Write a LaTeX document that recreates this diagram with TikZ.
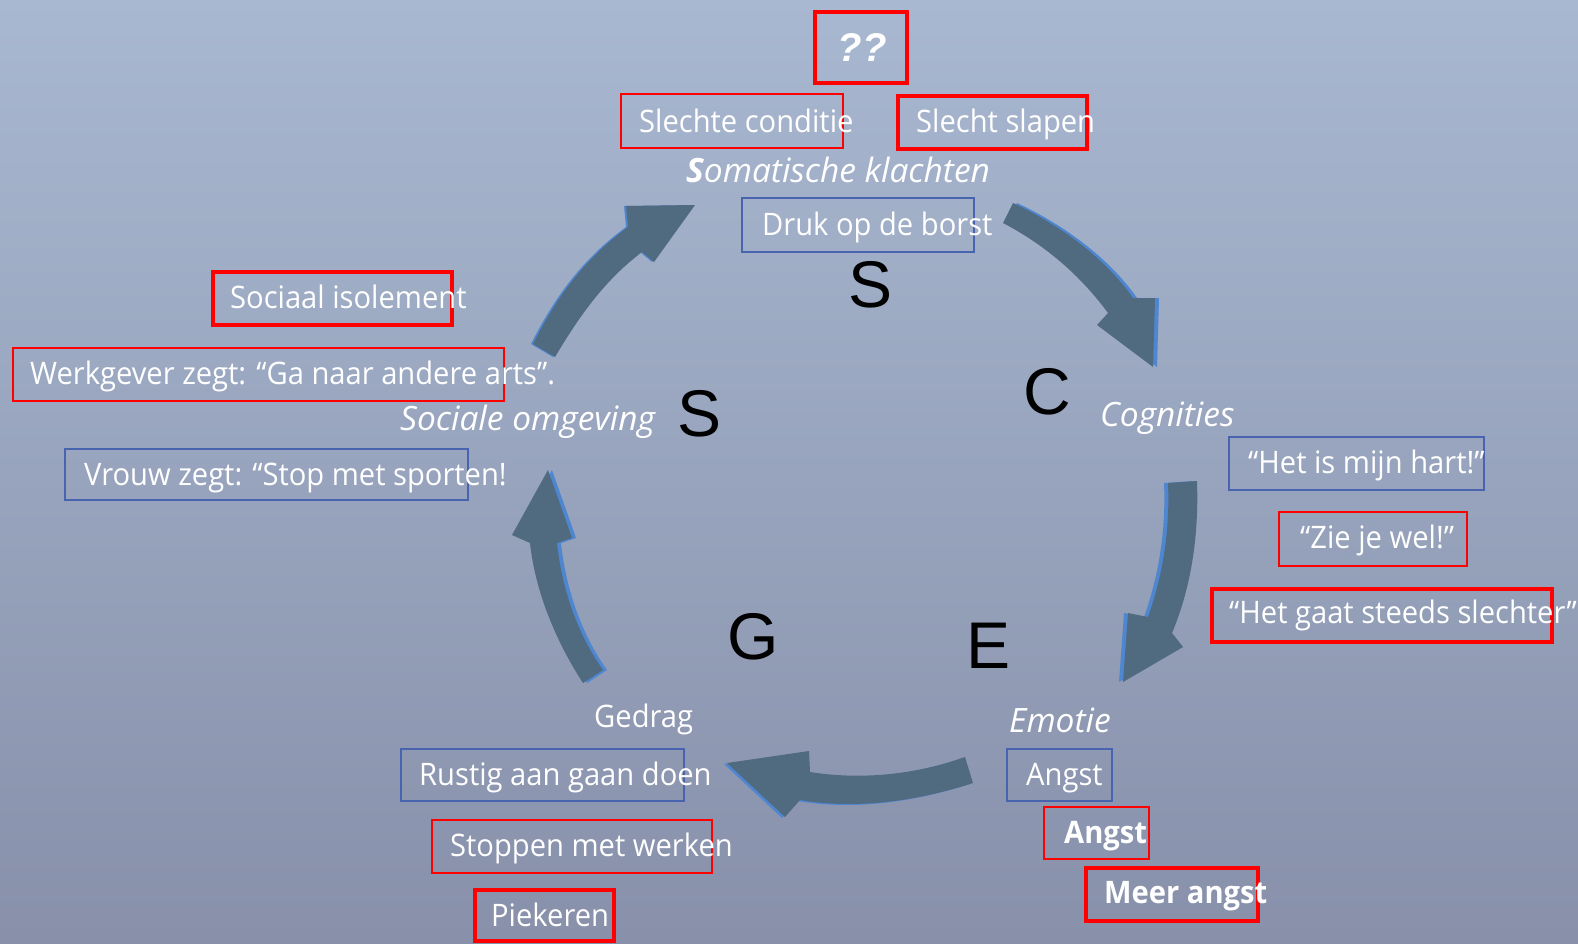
\documentclass[tikz,border=0pt]{standalone}
\usepackage{fontspec}
\setmainfont[FakeStretch=0.94]{Open Sans}
\newfontfamily\itfam{Open Sans}
\newfontfamily\letterfont{Liberation Sans}
\definecolor{bgtop}{RGB}{168,184,208}
\definecolor{bgbot}{RGB}{136,144,170}
\definecolor{arrowfill}{RGB}{80,106,128}
\definecolor{arrowhl}{RGB}{79,134,208}
\definecolor{boxred}{RGB}{255,0,0}
\definecolor{boxblue}{RGB}{72,100,175}
\tikzset{
  redthin/.style={draw=boxred, line width=2pt, rectangle, inner sep=0pt, anchor=north west},
  redthick/.style={draw=boxred, line width=4pt, rectangle, inner sep=0pt, anchor=north west},
  bluebox/.style={draw=boxblue, line width=2pt, rectangle, inner sep=0pt, anchor=north west},
  lbl/.style={text=white, anchor=base west, inner sep=0pt, font=\fontsize{31}{36}\selectfont},
  lblb/.style={lbl, font=\fontsize{31}{36}\selectfont\bfseries},
  itl/.style={lbl, font=\itfam\fontsize{33.5}{38}\selectfont\itshape},
  big/.style={anchor=base, inner sep=0pt, text=black, font=\letterfont\fontsize{66}{70}\selectfont},
  blockarrow/.style={fill=arrowfill, draw=none},
  hl/.style={fill=arrowhl, draw=none}
}
\begin{document}
\begin{tikzpicture}[x=1pt,y=-1pt]
\useasboundingbox (0,0) rectangle (1578,943);
\shade[top color=bgtop, bottom color=bgbot] (0,0) rectangle (1578,943);

% ---------- block arrows ----------
% top-left
\begin{scope}[shift={(-2,0)}]
\path[hl] (533,344) .. controls (560,290) and (590,255) .. (628,227) -- (626,206) -- (695,205) -- (654,262) -- (642,252) .. controls (605,280) and (580,315) .. (555,357) -- cycle;
\end{scope}
\path[blockarrow] (533,344) .. controls (560,290) and (590,255) .. (628,227) -- (626,206) -- (695,205) -- (654,262) -- (642,252) .. controls (605,280) and (580,315) .. (555,357) -- cycle;
% top-right
\begin{scope}[shift={(4,0)}]
\path[hl] (1013,203) .. controls (1060,225) and (1105,258) .. (1133,298) -- (1155,298) -- (1153,367) -- (1097,325) -- (1108,313) .. controls (1080,275) and (1045,245) .. (1003,223) -- cycle;
\end{scope}
\path[blockarrow] (1013,203) .. controls (1060,225) and (1105,258) .. (1133,298) -- (1155,298) -- (1153,367) -- (1097,325) -- (1108,313) .. controls (1080,275) and (1045,245) .. (1003,223) -- cycle;
% right
\begin{scope}[shift={(-4,0)}]
\path[hl] (1197,481) .. controls (1199,540) and (1190,590) .. (1172,633) -- (1183,647) -- (1123,682) -- (1128,613) -- (1148,617) .. controls (1163,575) and (1170,530) .. (1168,483) -- cycle;
\end{scope}
\path[blockarrow] (1197,481) .. controls (1199,540) and (1190,590) .. (1172,633) -- (1183,647) -- (1123,682) -- (1128,613) -- (1148,617) .. controls (1163,575) and (1170,530) .. (1168,483) -- cycle;
% bottom
\begin{scope}[shift={(-3,1)}]
\path[hl] (965,757) .. controls (915,775) and (860,780) .. (810,772) -- (809,751) -- (727,763) -- (785,817) -- (800,800) .. controls (860,810) and (920,800) .. (973,783) -- cycle;
\end{scope}
\path[blockarrow] (965,757) .. controls (915,775) and (860,780) .. (810,772) -- (809,751) -- (727,763) -- (785,817) -- (800,800) .. controls (860,810) and (920,800) .. (973,783) -- cycle;
% left
\begin{scope}[shift={(4,0)}]
\path[hl] (583,683) .. controls (555,640) and (535,590) .. (530,543) -- (512,535) -- (548,470) -- (572,538) -- (557,543) .. controls (562,590) and (578,635) .. (603,670) -- cycle;
\end{scope}
\path[blockarrow] (583,683) .. controls (555,640) and (535,590) .. (530,543) -- (512,535) -- (548,470) -- (572,538) -- (557,543) .. controls (562,590) and (578,635) .. (603,670) -- cycle;

% ---------- big letters ----------
\node[big] (lS1) at (870,307) {S};
\node[big] (lC) at (1047,414) {C};
\node[big] (lE) at (988,668) {E};
\node[big] (lG) at (753,659) {G};
\node[big] (lS2) at (700,436) {S};

% ---------- boxes ----------
\node[redthick, minimum width=92pt, minimum height=71pt] (bq) at (813,10) {};
\node[redthin, minimum width=222pt, minimum height=54pt] (bcond) at (620,93) {};
\node[redthick, minimum width=189pt, minimum height=53pt] (bslaap) at (896,94) {};
\node[bluebox, minimum width=232pt, minimum height=54pt] (bdruk) at (741,197) {};
\node[redthick, minimum width=239pt, minimum height=53pt] (biso) at (211,270) {};
\node[redthin, minimum width=491pt, minimum height=53pt] (bwerk) at (12,347) {};
\node[bluebox, minimum width=403pt, minimum height=51pt] (bvrouw) at (64,448) {};
\node[bluebox, minimum width=255pt, minimum height=53pt] (bhart) at (1228,436) {};
\node[redthin, minimum width=188pt, minimum height=54pt] (bzie) at (1278,511) {};
\node[redthick, minimum width=340pt, minimum height=53pt] (bgaat) at (1210,587) {};
\node[bluebox, minimum width=283pt, minimum height=52pt] (brustig) at (400,748) {};
\node[redthin, minimum width=280pt, minimum height=53pt] (bstop) at (431,819) {};
\node[redthick, minimum width=139pt, minimum height=51pt] (bpiek) at (473,888) {};
\node[bluebox, minimum width=105pt, minimum height=52pt] (bangst1) at (1006,748) {};
\node[redthin, minimum width=105pt, minimum height=52pt] (bangst2) at (1043,806) {};
\node[redthick, minimum width=172pt, minimum height=53pt] (bmeer) at (1084,866) {};

% ---------- texts ----------
\node[anchor=base, inner sep=0pt, text=white, font=\letterfont\fontsize{40}{44}\selectfont\bfseries\itshape] (tq) at (862,61) {??};
\node[lbl] (tcond) at (639,132) {Slechte conditie};
\node[lbl] (tslaap) at (916,132) {Slecht slapen};
\node[itl] (tsom) at (686,182) {\textbf{S}omatische klachten};
\node[lbl] (tdruk) at (762,235) {Druk op de borst};
\node[lbl] (tiso) at (230,308) {Sociaal isolement};
\node[lbl] (twerk) at (30,384) {Werkgever zegt: “Ga naar andere arts”.};
\node[itl] (tsoc) at (400,430) {Sociale omgeving};
\node[lbl] (tvrouw) at (84,485) {Vrouw zegt: “Stop met sporten!};
\node[itl] (tcog) at (1100,426) {Cognities};
\node[lbl] (thart) at (1248,473) {“Het is mijn hart!”};
\node[lbl] (tzie) at (1300,548) {“Zie je wel!”};
\node[lbl] (tgaat) at (1229,623) {“Het gaat steeds slechter”};
\node[lbl] (tgedrag) at (594,727) {Gedrag};
\node[lbl] (trustig) at (419,785) {Rustig aan gaan doen};
\node[lbl] (tstop) at (450,856) {Stoppen met werken};
\node[lbl] (tpiek) at (491,926) {Piekeren};
\node[itl] (temo) at (1009,732) {Emotie};
\node[lbl] (tangst1) at (1026,785) {Angst};
\node[lblb] (tangst2) at (1064,843) {Angst};
\node[lblb] (tmeer) at (1104,903) {Meer angst};
\end{tikzpicture}
\end{document}
